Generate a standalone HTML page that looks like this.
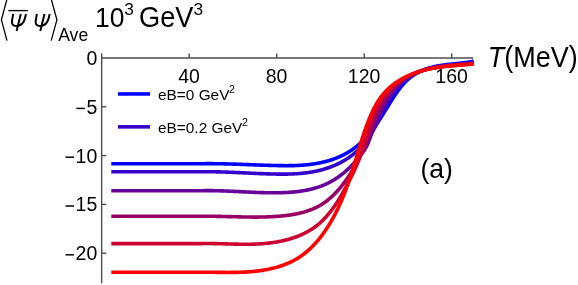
<!DOCTYPE html>
<html><head><meta charset="utf-8"><title>chart</title>
<style>html,body{margin:0;padding:0;background:#fff;overflow:hidden}body{width:578px;height:285px;position:relative;font-family:"Liberation Sans",sans-serif}</style>
</head><body>
<svg width="578" height="285" viewBox="0 0 578 285" style="position:absolute;left:0;top:0;font-family:'Liberation Sans',sans-serif">
<rect width="578" height="285" fill="#fff"/>
<path d="M111.30,163.72 L198.00,163.72 L198.80,163.71 L199.60,163.71 L200.40,163.70 L201.20,163.69 L202.00,163.69 L202.80,163.68 L203.60,163.68 L204.40,163.68 L205.20,163.67 L206.00,163.67 L206.80,163.66 L207.60,163.66 L208.40,163.66 L209.20,163.66 L210.00,163.66 L210.80,163.66 L211.60,163.67 L212.40,163.67 L213.20,163.68 L214.00,163.68 L214.80,163.69 L215.60,163.70 L216.40,163.71 L217.20,163.72 L218.00,163.73 L218.80,163.74 L219.60,163.75 L220.40,163.77 L221.20,163.78 L222.00,163.80 L222.80,163.82 L223.60,163.83 L224.40,163.85 L225.20,163.87 L226.00,163.89 L226.80,163.91 L227.60,163.93 L228.40,163.95 L229.20,163.98 L230.00,164.00 L230.80,164.02 L231.60,164.05 L232.40,164.07 L233.20,164.10 L234.00,164.12 L234.80,164.15 L235.60,164.17 L236.40,164.20 L237.20,164.23 L238.01,164.26 L238.81,164.28 L239.61,164.31 L240.41,164.34 L241.21,164.37 L242.01,164.40 L242.81,164.43 L243.61,164.46 L244.41,164.49 L245.21,164.52 L246.01,164.55 L246.81,164.58 L247.61,164.61 L248.41,164.64 L249.21,164.67 L250.01,164.70 L250.81,164.73 L251.61,164.76 L252.41,164.79 L253.21,164.82 L254.01,164.85 L254.81,164.88 L255.61,164.91 L256.41,164.94 L257.21,164.97 L258.01,165.00 L258.81,165.03 L259.60,165.06 L260.40,165.09 L261.20,165.11 L262.00,165.14 L262.80,165.17 L263.60,165.20 L264.40,165.22 L265.20,165.25 L266.00,165.27 L266.80,165.30 L267.60,165.32 L268.40,165.35 L269.20,165.37 L270.00,165.40 L270.80,165.42 L271.60,165.44 L272.40,165.46 L273.19,165.48 L273.99,165.50 L274.79,165.52 L275.59,165.54 L276.39,165.56 L277.19,165.57 L277.99,165.59 L278.79,165.60 L279.59,165.62 L280.38,165.63 L281.18,165.64 L281.98,165.65 L282.78,165.66 L283.58,165.67 L284.38,165.67 L285.17,165.68 L285.97,165.68 L286.77,165.68 L287.57,165.68 L288.36,165.67 L289.16,165.67 L289.96,165.66 L290.76,165.65 L291.55,165.63 L292.35,165.62 L293.15,165.60 L293.94,165.58 L294.74,165.56 L295.53,165.53 L296.33,165.50 L297.12,165.47 L297.92,165.43 L298.71,165.39 L299.51,165.35 L300.30,165.31 L301.10,165.26 L301.89,165.20 L302.68,165.15 L303.48,165.09 L304.27,165.02 L305.06,164.96 L305.85,164.88 L306.64,164.81 L307.44,164.73 L308.23,164.64 L309.02,164.55 L309.81,164.46 L310.60,164.36 L311.39,164.26 L312.18,164.15 L312.97,164.04 L313.75,163.92 L314.54,163.80 L315.33,163.68 L316.12,163.54 L316.90,163.41 L317.69,163.26 L318.48,163.11 L319.26,162.96 L320.05,162.80 L320.83,162.64 L321.61,162.47 L322.40,162.29 L323.18,162.11 L323.96,161.92 L324.75,161.72 L325.53,161.52 L326.31,161.31 L327.08,161.10 L327.86,160.88 L328.64,160.66 L329.41,160.42 L330.19,160.18 L330.96,159.94 L331.73,159.69 L332.49,159.43 L333.26,159.17 L334.02,158.90 L334.78,158.62 L335.54,158.34 L336.29,158.04 L337.04,157.75 L337.79,157.44 L338.53,157.13 L339.28,156.82 L340.01,156.49 L340.75,156.16 L341.48,155.82 L342.20,155.48 L342.93,155.13 L343.65,154.77 L344.36,154.40 L345.07,154.03 L345.77,153.65 L346.48,153.26 L347.17,152.87 L347.86,152.47 L348.55,152.06 L349.23,151.64 L349.90,151.22 L350.57,150.79 L351.23,150.35 L351.89,149.90 L352.54,149.45 L353.19,148.99 L353.83,148.53 L354.47,148.05 L355.10,147.57 L355.72,147.09 L356.34,146.59 L356.96,146.09 L357.57,145.59 L358.17,145.08 L358.77,144.56 L359.37,144.04 L359.96,143.51 L360.54,142.97 L361.12,142.43 L361.70,141.88 L362.27,141.33 L362.84,140.78 L363.40,140.21 L363.95,139.65 L364.51,139.08 L365.06,138.50 L365.60,137.92 L366.14,137.33 L366.67,136.74 L367.20,136.15 L367.73,135.55 L368.25,134.94 L368.77,134.34 L369.29,133.72 L369.80,133.11 L370.31,132.49 L370.81,131.87 L371.31,131.24 L371.80,130.61 L372.29,129.98 L372.78,129.34 L373.27,128.70 L373.75,128.06 L374.22,127.42 L374.70,126.77 L375.17,126.12 L375.64,125.47 L376.10,124.81 L376.56,124.15 L377.02,123.49 L377.47,122.83 L377.92,122.17 L378.37,121.50 L378.82,120.83 L379.26,120.17 L379.70,119.49 L380.14,118.82 L380.57,118.15 L381.00,117.47 L381.43,116.80 L381.86,116.12 L382.29,115.44 L382.71,114.76 L383.14,114.08 L383.56,113.40 L383.98,112.72 L384.40,112.04 L384.82,111.35 L385.24,110.67 L385.65,109.99 L386.07,109.30 L386.49,108.62 L386.91,107.94 L387.32,107.25 L387.74,106.57 L388.16,105.88 L388.58,105.20 L389.00,104.52 L389.42,103.83 L389.84,103.15 L390.27,102.47 L390.69,101.79 L391.12,101.11 L391.55,100.43 L391.98,99.75 L392.41,99.07 L392.85,98.39 L393.28,97.72 L393.72,97.04 L394.17,96.37 L394.61,95.70 L395.06,95.03 L395.51,94.36 L395.97,93.69 L396.43,93.03 L396.89,92.36 L397.36,91.70 L397.83,91.05 L398.30,90.39 L398.78,89.74 L399.27,89.09 L399.76,88.45 L400.25,87.81 L400.75,87.18 L401.25,86.55 L401.76,85.93 L402.28,85.31 L402.80,84.71 L403.33,84.10 L403.86,83.51 L404.40,82.92 L404.95,82.34 L405.50,81.77 L406.06,81.21 L406.63,80.65 L407.20,80.11 L407.79,79.58 L408.38,79.05 L408.97,78.54 L409.58,78.04 L410.19,77.54 L410.81,77.06 L411.44,76.59 L412.08,76.13 L412.72,75.68 L413.37,75.25 L414.03,74.82 L414.69,74.40 L415.36,73.99 L416.04,73.60 L416.72,73.21 L417.41,72.83 L418.11,72.46 L418.81,72.11 L419.52,71.76 L420.23,71.42 L420.95,71.09 L421.67,70.77 L422.39,70.46 L423.13,70.16 L423.86,69.86 L424.60,69.58 L425.35,69.30 L426.10,69.03 L426.85,68.78 L427.61,68.53 L428.37,68.28 L429.13,68.05 L429.90,67.82 L430.67,67.60 L431.44,67.39 L432.22,67.19 L432.99,67.00 L433.77,66.81 L434.56,66.63 L435.34,66.45 L436.13,66.29 L436.91,66.13 L437.70,65.98 L438.50,65.83 L439.29,65.69 L440.08,65.56 L440.88,65.43 L441.67,65.30 L442.47,65.18 L443.27,65.07 L444.07,64.96 L444.87,64.85 L445.67,64.75 L446.47,64.65 L447.27,64.55 L448.07,64.46 L448.87,64.37 L449.68,64.28 L450.48,64.20 L451.28,64.11 L452.09,64.03 L452.89,63.94 L453.69,63.86 L454.49,63.78 L455.30,63.70 L456.10,63.62 L456.90,63.54 L457.70,63.46 L458.50,63.37 L459.30,63.29 L460.09,63.20 L460.89,63.11 L461.68,63.02 L462.48,62.93 L463.27,62.84 L464.06,62.74 L464.85,62.64 L465.64,62.53 L466.43,62.42 L467.21,62.31 L468.00,62.19 L468.78,62.07 L469.56,61.94 L470.33,61.81 L471.11,61.67 L471.88,61.53 L472.65,61.38 L473.42,61.22 L473.72,61.15" fill="none" stroke="#0000ff" stroke-width="3.6" stroke-linejoin="round" stroke-linecap="butt"/>
<path d="M111.30,171.80 L198.00,171.80 L198.80,171.80 L199.60,171.79 L200.40,171.79 L201.20,171.78 L202.00,171.77 L202.80,171.77 L203.60,171.76 L204.40,171.76 L205.20,171.75 L206.00,171.75 L206.80,171.75 L207.60,171.75 L208.40,171.75 L209.20,171.75 L210.00,171.75 L210.80,171.76 L211.60,171.76 L212.40,171.77 L213.20,171.78 L214.00,171.79 L214.80,171.80 L215.60,171.81 L216.40,171.83 L217.20,171.84 L218.00,171.86 L218.80,171.88 L219.60,171.90 L220.40,171.92 L221.20,171.94 L222.00,171.96 L222.80,171.98 L223.60,172.01 L224.40,172.03 L225.20,172.06 L226.00,172.09 L226.80,172.12 L227.60,172.15 L228.40,172.18 L229.20,172.21 L230.00,172.24 L230.80,172.27 L231.60,172.30 L232.40,172.33 L233.20,172.37 L234.00,172.40 L234.80,172.44 L235.60,172.47 L236.40,172.51 L237.20,172.54 L238.00,172.58 L238.80,172.62 L239.60,172.66 L240.40,172.69 L241.20,172.73 L242.00,172.77 L242.80,172.81 L243.60,172.84 L244.40,172.88 L245.20,172.92 L246.00,172.96 L246.80,173.00 L247.59,173.04 L248.39,173.07 L249.19,173.11 L249.99,173.15 L250.79,173.19 L251.59,173.22 L252.39,173.26 L253.19,173.30 L253.99,173.33 L254.79,173.37 L255.59,173.41 L256.39,173.44 L257.19,173.48 L257.99,173.51 L258.79,173.54 L259.59,173.58 L260.39,173.61 L261.19,173.64 L261.99,173.67 L262.79,173.70 L263.59,173.73 L264.39,173.76 L265.19,173.79 L265.99,173.82 L266.79,173.84 L267.59,173.87 L268.39,173.89 L269.18,173.92 L269.98,173.94 L270.78,173.96 L271.58,173.98 L272.38,174.00 L273.18,174.02 L273.98,174.04 L274.78,174.05 L275.58,174.07 L276.38,174.08 L277.18,174.09 L277.98,174.10 L278.78,174.11 L279.58,174.12 L280.38,174.12 L281.17,174.12 L281.97,174.13 L282.77,174.13 L283.57,174.12 L284.37,174.12 L285.17,174.11 L285.97,174.10 L286.76,174.09 L287.56,174.08 L288.36,174.06 L289.16,174.04 L289.95,174.02 L290.75,173.99 L291.55,173.97 L292.34,173.94 L293.14,173.90 L293.93,173.86 L294.73,173.82 L295.52,173.78 L296.32,173.73 L297.11,173.68 L297.90,173.63 L298.70,173.57 L299.49,173.51 L300.28,173.44 L301.07,173.37 L301.86,173.30 L302.65,173.22 L303.44,173.14 L304.23,173.05 L305.02,172.96 L305.81,172.87 L306.60,172.77 L307.38,172.66 L308.17,172.56 L308.96,172.44 L309.74,172.32 L310.53,172.20 L311.31,172.07 L312.09,171.94 L312.87,171.80 L313.66,171.65 L314.44,171.50 L315.22,171.35 L316.00,171.19 L316.77,171.02 L317.55,170.85 L318.33,170.67 L319.10,170.48 L319.88,170.29 L320.65,170.10 L321.43,169.90 L322.20,169.69 L322.97,169.47 L323.74,169.25 L324.51,169.02 L325.28,168.79 L326.05,168.55 L326.81,168.30 L327.58,168.04 L328.34,167.78 L329.11,167.51 L329.87,167.24 L330.63,166.95 L331.39,166.66 L332.14,166.37 L332.90,166.06 L333.65,165.75 L334.40,165.44 L335.15,165.11 L335.89,164.78 L336.63,164.45 L337.37,164.10 L338.11,163.75 L338.84,163.40 L339.57,163.03 L340.29,162.66 L341.01,162.29 L341.73,161.90 L342.45,161.51 L343.16,161.12 L343.86,160.72 L344.56,160.31 L345.26,159.89 L345.95,159.47 L346.63,159.04 L347.32,158.60 L347.99,158.16 L348.66,157.71 L349.33,157.26 L349.99,156.80 L350.64,156.33 L351.29,155.86 L351.93,155.38 L352.56,154.89 L353.19,154.40 L353.81,153.90 L354.43,153.39 L355.03,152.88 L355.64,152.36 L356.23,151.84 L356.82,151.31 L357.39,150.77 L357.97,150.23 L358.53,149.68 L359.09,149.13 L359.64,148.57 L360.18,148.00 L360.72,147.43 L361.25,146.85 L361.77,146.27 L362.29,145.68 L362.80,145.09 L363.31,144.49 L363.81,143.89 L364.30,143.28 L364.79,142.67 L365.27,142.05 L365.75,141.43 L366.22,140.80 L366.69,140.17 L367.15,139.54 L367.61,138.90 L368.06,138.26 L368.51,137.61 L368.96,136.96 L369.40,136.31 L369.83,135.65 L370.26,134.99 L370.69,134.32 L371.12,133.65 L371.54,132.98 L371.96,132.31 L372.37,131.63 L372.78,130.95 L373.19,130.26 L373.60,129.58 L374.00,128.89 L374.40,128.20 L374.80,127.50 L375.20,126.81 L375.59,126.11 L375.98,125.41 L376.37,124.70 L376.76,124.00 L377.15,123.29 L377.53,122.58 L377.92,121.87 L378.30,121.16 L378.68,120.45 L379.06,119.74 L379.44,119.02 L379.82,118.30 L380.20,117.59 L380.58,116.87 L380.95,116.15 L381.33,115.43 L381.71,114.71 L382.09,113.99 L382.47,113.26 L382.84,112.54 L383.22,111.82 L383.60,111.10 L383.98,110.38 L384.37,109.65 L384.75,108.93 L385.13,108.21 L385.52,107.49 L385.91,106.77 L386.30,106.06 L386.69,105.34 L387.08,104.63 L387.48,103.91 L387.87,103.20 L388.27,102.49 L388.67,101.79 L389.08,101.08 L389.49,100.38 L389.90,99.68 L390.31,98.99 L390.73,98.30 L391.15,97.61 L391.58,96.92 L392.00,96.24 L392.44,95.56 L392.87,94.89 L393.31,94.22 L393.76,93.56 L394.21,92.90 L394.66,92.25 L395.12,91.60 L395.58,90.95 L396.05,90.31 L396.52,89.68 L397.00,89.06 L397.49,88.43 L397.98,87.82 L398.47,87.21 L398.98,86.61 L399.48,86.02 L400.00,85.43 L400.52,84.85 L401.04,84.28 L401.58,83.71 L402.12,83.15 L402.66,82.60 L403.22,82.06 L403.78,81.53 L404.35,81.00 L404.92,80.49 L405.51,79.98 L406.10,79.48 L406.70,78.99 L407.31,78.51 L407.92,78.04 L408.55,77.58 L409.18,77.13 L409.82,76.69 L410.47,76.26 L411.13,75.84 L411.79,75.43 L412.47,75.03 L413.15,74.64 L413.83,74.26 L414.53,73.88 L415.23,73.52 L415.94,73.17 L416.66,72.82 L417.38,72.49 L418.10,72.16 L418.84,71.84 L419.58,71.53 L420.32,71.23 L421.07,70.94 L421.82,70.65 L422.58,70.38 L423.34,70.11 L424.11,69.85 L424.88,69.59 L425.66,69.35 L426.43,69.11 L427.22,68.88 L428.00,68.66 L428.79,68.45 L429.58,68.24 L430.37,68.04 L431.16,67.84 L431.96,67.66 L432.76,67.48 L433.56,67.30 L434.36,67.14 L435.16,66.98 L435.96,66.82 L436.77,66.67 L437.57,66.53 L438.37,66.39 L439.18,66.26 L439.98,66.14 L440.79,66.02 L441.59,65.90 L442.40,65.79 L443.21,65.68 L444.01,65.58 L444.82,65.48 L445.62,65.38 L446.43,65.29 L447.23,65.20 L448.04,65.11 L448.84,65.02 L449.65,64.94 L450.45,64.86 L451.25,64.78 L452.06,64.71 L452.86,64.63 L453.66,64.56 L454.46,64.48 L455.26,64.41 L456.05,64.34 L456.85,64.27 L457.64,64.20 L458.44,64.12 L459.23,64.05 L460.02,63.98 L460.81,63.90 L461.60,63.83 L462.39,63.75 L463.17,63.67 L463.95,63.59 L464.73,63.51 L465.51,63.42 L466.29,63.34 L467.07,63.25 L467.84,63.15 L468.61,63.06 L469.38,62.96 L470.14,62.85 L470.91,62.74 L471.67,62.63 L472.43,62.51 L473.18,62.39 L473.64,62.32" fill="none" stroke="#3300cc" stroke-width="3.6" stroke-linejoin="round" stroke-linecap="butt"/>
<path d="M111.30,190.71 L198.80,190.71 L199.60,190.71 L200.40,190.70 L201.20,190.69 L202.00,190.68 L202.80,190.68 L203.60,190.67 L204.40,190.66 L205.21,190.66 L206.01,190.65 L206.81,190.65 L207.61,190.65 L208.41,190.64 L209.21,190.64 L210.01,190.65 L210.81,190.65 L211.61,190.66 L212.41,190.66 L213.21,190.67 L214.01,190.68 L214.80,190.70 L215.60,190.71 L216.40,190.73 L217.20,190.74 L218.00,190.76 L218.79,190.78 L219.59,190.80 L220.39,190.83 L221.19,190.85 L221.98,190.88 L222.78,190.90 L223.58,190.93 L224.38,190.96 L225.17,190.99 L225.97,191.02 L226.77,191.05 L227.56,191.08 L228.36,191.11 L229.16,191.15 L229.95,191.18 L230.75,191.22 L231.54,191.25 L232.34,191.29 L233.14,191.33 L233.93,191.36 L234.73,191.40 L235.52,191.44 L236.32,191.48 L237.12,191.52 L237.91,191.56 L238.71,191.60 L239.51,191.64 L240.30,191.67 L241.10,191.71 L241.89,191.75 L242.69,191.79 L243.49,191.83 L244.28,191.87 L245.08,191.91 L245.88,191.95 L246.67,191.99 L247.47,192.03 L248.27,192.06 L249.07,192.10 L249.86,192.14 L250.66,192.18 L251.46,192.21 L252.26,192.25 L253.05,192.28 L253.85,192.32 L254.65,192.35 L255.45,192.38 L256.25,192.41 L257.05,192.44 L257.85,192.47 L258.64,192.50 L259.44,192.53 L260.24,192.55 L261.04,192.58 L261.84,192.60 L262.64,192.63 L263.44,192.65 L264.25,192.67 L265.05,192.69 L265.85,192.70 L266.65,192.72 L267.45,192.73 L268.25,192.75 L269.06,192.76 L269.86,192.77 L270.66,192.78 L271.47,192.78 L272.27,192.79 L273.08,192.79 L273.88,192.79 L274.69,192.79 L275.49,192.78 L276.30,192.78 L277.10,192.77 L277.91,192.76 L278.72,192.75 L279.52,192.73 L280.33,192.72 L281.14,192.70 L281.95,192.67 L282.75,192.65 L283.56,192.62 L284.37,192.59 L285.17,192.56 L285.98,192.52 L286.79,192.48 L287.59,192.43 L288.40,192.39 L289.20,192.34 L290.01,192.28 L290.81,192.22 L291.62,192.16 L292.42,192.10 L293.22,192.03 L294.02,191.95 L294.82,191.87 L295.62,191.79 L296.42,191.70 L297.22,191.61 L298.02,191.52 L298.81,191.42 L299.61,191.31 L300.40,191.20 L301.20,191.09 L301.99,190.97 L302.78,190.84 L303.56,190.71 L304.35,190.58 L305.14,190.44 L305.92,190.29 L306.70,190.14 L307.48,189.98 L308.26,189.82 L309.04,189.65 L309.82,189.47 L310.59,189.29 L311.36,189.10 L312.13,188.91 L312.90,188.71 L313.66,188.50 L314.43,188.29 L315.19,188.07 L315.95,187.85 L316.70,187.61 L317.46,187.37 L318.21,187.13 L318.96,186.87 L319.71,186.61 L320.45,186.34 L321.19,186.07 L321.93,185.78 L322.67,185.49 L323.40,185.20 L324.13,184.89 L324.86,184.58 L325.59,184.25 L326.31,183.92 L327.03,183.59 L327.74,183.24 L328.46,182.89 L329.17,182.53 L329.87,182.16 L330.58,181.78 L331.27,181.40 L331.97,181.01 L332.66,180.61 L333.35,180.20 L334.04,179.79 L334.72,179.37 L335.40,178.94 L336.07,178.51 L336.74,178.07 L337.41,177.62 L338.07,177.17 L338.73,176.71 L339.38,176.24 L340.03,175.77 L340.67,175.29 L341.31,174.80 L341.95,174.31 L342.58,173.81 L343.21,173.31 L343.83,172.80 L344.45,172.28 L345.06,171.76 L345.67,171.24 L346.28,170.70 L346.87,170.17 L347.47,169.62 L348.06,169.08 L348.64,168.52 L349.22,167.97 L349.79,167.40 L350.36,166.83 L350.92,166.26 L351.48,165.68 L352.03,165.10 L352.57,164.52 L353.11,163.93 L353.65,163.33 L354.18,162.73 L354.70,162.13 L355.22,161.52 L355.74,160.91 L356.25,160.30 L356.77,159.69 L357.28,159.08 L357.79,158.47 L358.30,157.85 L358.81,157.24 L359.32,156.63 L359.83,156.01 L360.34,155.40 L360.85,154.79 L361.35,154.17 L361.85,153.55 L362.34,152.92 L362.82,152.30 L363.30,151.66 L363.77,151.02 L364.22,150.37 L364.66,149.72 L365.09,149.06 L365.51,148.38 L365.91,147.70 L366.29,147.01 L366.65,146.30 L367.01,145.59 L367.34,144.87 L367.67,144.15 L367.99,143.41 L368.29,142.67 L368.59,141.93 L368.89,141.19 L369.17,140.44 L369.46,139.69 L369.74,138.94 L370.02,138.20 L370.29,137.45 L370.57,136.70 L370.85,135.96 L371.12,135.21 L371.40,134.47 L371.67,133.72 L371.95,132.98 L372.22,132.24 L372.50,131.50 L372.77,130.76 L373.05,130.02 L373.32,129.28 L373.60,128.54 L373.88,127.80 L374.16,127.06 L374.44,126.33 L374.73,125.59 L375.01,124.85 L375.30,124.12 L375.59,123.39 L375.88,122.65 L376.17,121.92 L376.47,121.19 L376.77,120.45 L377.07,119.72 L377.37,118.99 L377.68,118.26 L377.99,117.53 L378.31,116.80 L378.63,116.08 L378.95,115.35 L379.28,114.62 L379.61,113.89 L379.95,113.17 L380.29,112.44 L380.63,111.72 L380.98,110.99 L381.34,110.27 L381.70,109.54 L382.07,108.82 L382.44,108.10 L382.81,107.38 L383.19,106.66 L383.58,105.95 L383.97,105.23 L384.36,104.52 L384.76,103.81 L385.17,103.11 L385.58,102.40 L386.00,101.70 L386.42,101.00 L386.84,100.30 L387.28,99.61 L387.71,98.92 L388.16,98.24 L388.60,97.56 L389.06,96.88 L389.51,96.21 L389.98,95.54 L390.45,94.87 L390.92,94.21 L391.40,93.56 L391.89,92.91 L392.38,92.26 L392.87,91.62 L393.38,90.99 L393.88,90.36 L394.40,89.74 L394.91,89.12 L395.44,88.51 L395.97,87.91 L396.50,87.31 L397.05,86.72 L397.59,86.14 L398.15,85.56 L398.70,84.99 L399.27,84.43 L399.84,83.88 L400.41,83.33 L400.99,82.79 L401.58,82.26 L402.17,81.74 L402.77,81.23 L403.38,80.72 L403.99,80.22 L404.61,79.74 L405.23,79.26 L405.86,78.79 L406.49,78.33 L407.13,77.88 L407.78,77.44 L408.43,77.01 L409.09,76.59 L409.76,76.18 L410.43,75.78 L411.11,75.39 L411.79,75.01 L412.48,74.64 L413.17,74.28 L413.87,73.93 L414.58,73.59 L415.29,73.26 L416.00,72.94 L416.72,72.62 L417.45,72.32 L418.18,72.02 L418.91,71.73 L419.65,71.45 L420.39,71.18 L421.14,70.92 L421.89,70.66 L422.64,70.41 L423.40,70.17 L424.16,69.94 L424.93,69.71 L425.70,69.49 L426.47,69.28 L427.25,69.07 L428.02,68.87 L428.81,68.68 L429.59,68.49 L430.38,68.31 L431.16,68.13 L431.96,67.96 L432.75,67.80 L433.55,67.64 L434.34,67.48 L435.14,67.33 L435.94,67.19 L436.75,67.05 L437.55,66.91 L438.36,66.78 L439.16,66.65 L439.97,66.53 L440.78,66.41 L441.59,66.30 L442.40,66.19 L443.21,66.08 L444.02,65.97 L444.84,65.87 L445.65,65.77 L446.46,65.68 L447.27,65.58 L448.08,65.49 L448.89,65.40 L449.71,65.32 L450.52,65.23 L451.33,65.15 L452.13,65.07 L452.94,64.99 L453.75,64.91 L454.56,64.83 L455.36,64.76 L456.16,64.68 L456.96,64.61 L457.76,64.53 L458.56,64.46 L459.36,64.39 L460.15,64.31 L460.94,64.24 L461.73,64.17 L462.52,64.09 L463.30,64.02 L464.08,63.94 L464.86,63.87 L465.64,63.79 L466.41,63.71 L467.18,63.63 L467.95,63.55 L468.71,63.47 L469.47,63.38 L470.22,63.29 L470.97,63.20 L471.72,63.11 L472.46,63.02 L473.20,62.92 L473.56,62.87" fill="none" stroke="#660099" stroke-width="3.6" stroke-linejoin="round" stroke-linecap="butt"/>
<path d="M111.30,216.30 L198.79,216.30 L199.60,216.30 L200.40,216.29 L201.20,216.29 L202.00,216.28 L202.80,216.28 L203.60,216.28 L204.41,216.27 L205.21,216.27 L206.01,216.27 L206.81,216.27 L207.61,216.27 L208.41,216.27 L209.21,216.27 L210.01,216.27 L210.81,216.27 L211.61,216.28 L212.41,216.29 L213.21,216.29 L214.01,216.30 L214.81,216.31 L215.60,216.32 L216.40,216.34 L217.20,216.35 L218.00,216.36 L218.79,216.38 L219.59,216.39 L220.39,216.41 L221.18,216.42 L221.98,216.44 L222.78,216.46 L223.57,216.48 L224.37,216.50 L225.16,216.52 L225.96,216.54 L226.76,216.56 L227.55,216.58 L228.35,216.60 L229.14,216.62 L229.94,216.64 L230.73,216.66 L231.53,216.68 L232.32,216.70 L233.12,216.72 L233.91,216.74 L234.71,216.76 L235.50,216.78 L236.30,216.80 L237.09,216.82 L237.89,216.84 L238.68,216.86 L239.48,216.88 L240.27,216.90 L241.07,216.92 L241.86,216.93 L242.66,216.95 L243.45,216.96 L244.25,216.98 L245.04,216.99 L245.84,217.01 L246.63,217.02 L247.43,217.03 L248.23,217.04 L249.02,217.05 L249.82,217.06 L250.61,217.07 L251.41,217.07 L252.21,217.08 L253.01,217.08 L253.80,217.08 L254.60,217.09 L255.40,217.09 L256.20,217.08 L257.00,217.08 L257.79,217.08 L258.59,217.07 L259.39,217.06 L260.19,217.05 L260.99,217.04 L261.79,217.03 L262.59,217.01 L263.39,216.99 L264.20,216.97 L265.00,216.95 L265.80,216.93 L266.60,216.90 L267.41,216.88 L268.21,216.85 L269.01,216.82 L269.82,216.78 L270.62,216.75 L271.43,216.71 L272.23,216.67 L273.04,216.62 L273.85,216.58 L274.65,216.53 L275.46,216.48 L276.27,216.42 L277.08,216.36 L277.89,216.30 L278.69,216.24 L279.50,216.18 L280.31,216.11 L281.12,216.04 L281.93,215.96 L282.74,215.88 L283.55,215.80 L284.36,215.71 L285.17,215.62 L285.97,215.53 L286.78,215.43 L287.59,215.32 L288.39,215.22 L289.20,215.11 L290.00,214.99 L290.80,214.87 L291.60,214.74 L292.40,214.61 L293.20,214.48 L294.00,214.34 L294.79,214.19 L295.58,214.04 L296.38,213.89 L297.16,213.72 L297.95,213.56 L298.74,213.38 L299.52,213.20 L300.30,213.02 L301.08,212.83 L301.85,212.63 L302.63,212.43 L303.40,212.21 L304.17,212.00 L304.93,211.77 L305.69,211.54 L306.45,211.31 L307.21,211.06 L307.96,210.81 L308.71,210.55 L309.45,210.29 L310.19,210.01 L310.93,209.73 L311.67,209.44 L312.40,209.15 L313.12,208.84 L313.85,208.53 L314.56,208.21 L315.28,207.88 L315.99,207.54 L316.69,207.20 L317.39,206.84 L318.09,206.48 L318.78,206.11 L319.47,205.73 L320.15,205.34 L320.83,204.94 L321.50,204.53 L322.17,204.12 L322.83,203.69 L323.48,203.25 L324.13,202.81 L324.78,202.36 L325.42,201.90 L326.06,201.43 L326.69,200.95 L327.32,200.47 L327.94,199.98 L328.55,199.48 L329.16,198.97 L329.77,198.45 L330.37,197.93 L330.97,197.40 L331.56,196.87 L332.15,196.33 L332.73,195.78 L333.31,195.22 L333.88,194.66 L334.45,194.10 L335.01,193.53 L335.57,192.95 L336.13,192.37 L336.68,191.78 L337.22,191.18 L337.76,190.59 L338.30,189.98 L338.83,189.38 L339.35,188.76 L339.88,188.15 L340.39,187.53 L340.91,186.91 L341.42,186.28 L341.92,185.65 L342.42,185.01 L342.91,184.37 L343.41,183.73 L343.89,183.09 L344.37,182.44 L344.85,181.79 L345.33,181.14 L345.79,180.49 L346.26,179.83 L346.72,179.18 L347.18,178.52 L347.63,177.85 L348.08,177.19 L348.52,176.53 L348.96,175.86 L349.40,175.19 L349.83,174.52 L350.26,173.85 L350.69,173.17 L351.11,172.50 L351.53,171.82 L351.95,171.14 L352.36,170.46 L352.77,169.77 L353.18,169.09 L353.58,168.40 L353.98,167.72 L354.38,167.03 L354.78,166.33 L355.17,165.64 L355.56,164.95 L355.95,164.25 L356.34,163.55 L356.72,162.85 L357.10,162.15 L357.48,161.45 L357.86,160.74 L358.24,160.04 L358.61,159.33 L358.98,158.62 L359.35,157.91 L359.72,157.20 L360.09,156.49 L360.46,155.77 L360.82,155.06 L361.18,154.34 L361.54,153.62 L361.90,152.90 L362.25,152.18 L362.61,151.46 L362.95,150.73 L363.30,150.01 L363.64,149.29 L363.98,148.56 L364.31,147.83 L364.64,147.10 L364.96,146.38 L365.28,145.65 L365.60,144.92 L365.91,144.18 L366.21,143.45 L366.51,142.72 L366.80,141.99 L367.08,141.26 L367.36,140.52 L367.64,139.79 L367.90,139.05 L368.16,138.32 L368.41,137.59 L368.66,136.85 L368.91,136.11 L369.15,135.38 L369.38,134.64 L369.62,133.90 L369.85,133.16 L370.09,132.42 L370.33,131.68 L370.57,130.94 L370.81,130.19 L371.06,129.45 L371.31,128.70 L371.56,127.95 L371.82,127.20 L372.09,126.45 L372.36,125.70 L372.63,124.94 L372.90,124.19 L373.18,123.44 L373.47,122.68 L373.76,121.93 L374.05,121.18 L374.35,120.42 L374.65,119.67 L374.96,118.92 L375.27,118.16 L375.58,117.41 L375.90,116.66 L376.23,115.91 L376.56,115.16 L376.89,114.42 L377.23,113.67 L377.57,112.93 L377.92,112.18 L378.27,111.44 L378.63,110.71 L378.99,109.97 L379.36,109.24 L379.73,108.50 L380.11,107.78 L380.49,107.05 L380.88,106.33 L381.27,105.61 L381.67,104.89 L382.07,104.18 L382.47,103.47 L382.89,102.76 L383.30,102.06 L383.73,101.36 L384.15,100.67 L384.59,99.98 L385.02,99.29 L385.47,98.61 L385.92,97.93 L386.37,97.26 L386.83,96.59 L387.29,95.93 L387.76,95.28 L388.24,94.63 L388.72,93.98 L389.21,93.34 L389.70,92.71 L390.20,92.08 L390.70,91.46 L391.21,90.84 L391.73,90.23 L392.25,89.63 L392.77,89.03 L393.31,88.44 L393.84,87.86 L394.39,87.29 L394.94,86.72 L395.49,86.16 L396.05,85.61 L396.62,85.06 L397.19,84.52 L397.77,83.99 L398.36,83.47 L398.95,82.96 L399.55,82.46 L400.15,81.96 L400.76,81.47 L401.38,80.99 L402.00,80.53 L402.63,80.07 L403.27,79.61 L403.91,79.17 L404.55,78.74 L405.21,78.32 L405.87,77.90 L406.53,77.50 L407.20,77.10 L407.88,76.72 L408.56,76.34 L409.25,75.97 L409.94,75.60 L410.64,75.25 L411.34,74.90 L412.05,74.57 L412.76,74.24 L413.48,73.92 L414.20,73.60 L414.93,73.29 L415.66,72.99 L416.39,72.70 L417.13,72.42 L417.88,72.14 L418.62,71.87 L419.37,71.61 L420.13,71.35 L420.89,71.10 L421.65,70.85 L422.41,70.62 L423.18,70.38 L423.95,70.16 L424.72,69.94 L425.50,69.73 L426.28,69.52 L427.06,69.32 L427.85,69.12 L428.64,68.93 L429.42,68.75 L430.22,68.57 L431.01,68.39 L431.80,68.22 L432.60,68.06 L433.40,67.90 L434.20,67.74 L435.00,67.59 L435.81,67.44 L436.61,67.30 L437.42,67.16 L438.22,67.03 L439.03,66.90 L439.84,66.77 L440.65,66.65 L441.46,66.53 L442.27,66.42 L443.08,66.31 L443.89,66.20 L444.70,66.09 L445.51,65.99 L446.33,65.89 L447.14,65.80 L447.95,65.70 L448.76,65.61 L449.57,65.52 L450.37,65.44 L451.18,65.35 L451.99,65.27 L452.79,65.19 L453.60,65.12 L454.40,65.04 L455.20,64.97 L456.00,64.89 L456.80,64.82 L457.60,64.75 L458.40,64.68 L459.19,64.62 L459.98,64.55 L460.77,64.49 L461.56,64.42 L462.34,64.36 L463.12,64.29 L463.90,64.23 L464.68,64.17 L465.45,64.11 L466.22,64.04 L466.99,63.98 L467.76,63.92 L468.52,63.86 L469.27,63.79 L470.03,63.73 L470.78,63.66 L471.53,63.60 L472.27,63.53 L473.01,63.47 L473.52,63.42" fill="none" stroke="#990066" stroke-width="3.6" stroke-linejoin="round" stroke-linecap="butt"/>
<path d="M111.30,243.61 L198.80,243.61 L199.60,243.60 L200.40,243.60 L201.20,243.59 L202.00,243.58 L202.80,243.57 L203.60,243.57 L204.40,243.56 L205.20,243.56 L206.00,243.55 L206.80,243.55 L207.60,243.55 L208.40,243.55 L209.20,243.55 L210.00,243.55 L210.80,243.56 L211.60,243.56 L212.40,243.57 L213.20,243.58 L214.00,243.59 L214.80,243.60 L215.60,243.61 L216.40,243.63 L217.20,243.64 L218.00,243.66 L218.80,243.68 L219.60,243.70 L220.40,243.72 L221.20,243.74 L222.00,243.76 L222.80,243.78 L223.60,243.80 L224.39,243.82 L225.19,243.84 L225.99,243.87 L226.79,243.89 L227.59,243.91 L228.39,243.94 L229.19,243.96 L229.99,243.98 L230.78,244.00 L231.58,244.02 L232.38,244.04 L233.18,244.07 L233.98,244.09 L234.78,244.10 L235.57,244.12 L236.37,244.14 L237.17,244.16 L237.97,244.17 L238.77,244.19 L239.56,244.20 L240.36,244.21 L241.16,244.22 L241.96,244.23 L242.76,244.24 L243.55,244.25 L244.35,244.25 L245.15,244.25 L245.95,244.25 L246.74,244.25 L247.54,244.25 L248.34,244.24 L249.14,244.23 L249.93,244.22 L250.73,244.21 L251.53,244.20 L252.33,244.18 L253.12,244.16 L253.92,244.14 L254.72,244.11 L255.52,244.08 L256.31,244.05 L257.11,244.01 L257.91,243.98 L258.71,243.94 L259.50,243.89 L260.30,243.84 L261.10,243.79 L261.90,243.74 L262.69,243.68 L263.49,243.62 L264.29,243.55 L265.09,243.48 L265.88,243.41 L266.68,243.33 L267.48,243.25 L268.28,243.16 L269.07,243.07 L269.87,242.98 L270.67,242.88 L271.47,242.77 L272.26,242.66 L273.06,242.55 L273.86,242.43 L274.66,242.31 L275.45,242.18 L276.25,242.05 L277.04,241.91 L277.84,241.77 L278.63,241.62 L279.43,241.47 L280.22,241.31 L281.01,241.15 L281.80,240.98 L282.59,240.81 L283.38,240.63 L284.17,240.44 L284.95,240.25 L285.74,240.06 L286.52,239.86 L287.30,239.65 L288.08,239.44 L288.85,239.22 L289.63,239.00 L290.40,238.77 L291.17,238.53 L291.94,238.29 L292.70,238.04 L293.47,237.79 L294.23,237.53 L294.98,237.27 L295.74,237.00 L296.49,236.72 L297.24,236.44 L297.98,236.15 L298.73,235.85 L299.46,235.55 L300.20,235.24 L300.93,234.92 L301.66,234.60 L302.38,234.27 L303.10,233.94 L303.82,233.60 L304.53,233.25 L305.24,232.89 L305.95,232.53 L306.65,232.16 L307.34,231.79 L308.03,231.40 L308.72,231.01 L309.40,230.62 L310.08,230.21 L310.75,229.80 L311.42,229.38 L312.08,228.96 L312.74,228.52 L313.39,228.08 L314.04,227.64 L314.68,227.18 L315.31,226.72 L315.94,226.25 L316.57,225.77 L317.18,225.29 L317.80,224.79 L318.40,224.29 L319.00,223.79 L319.60,223.27 L320.19,222.75 L320.77,222.22 L321.35,221.69 L321.93,221.15 L322.49,220.60 L323.06,220.05 L323.62,219.49 L324.17,218.92 L324.72,218.35 L325.26,217.77 L325.80,217.19 L326.33,216.60 L326.86,216.00 L327.38,215.40 L327.90,214.80 L328.42,214.19 L328.93,213.57 L329.43,212.95 L329.93,212.33 L330.43,211.70 L330.92,211.06 L331.41,210.42 L331.90,209.78 L332.38,209.14 L332.85,208.49 L333.32,207.83 L333.79,207.17 L334.26,206.51 L334.72,205.85 L335.17,205.18 L335.63,204.51 L336.08,203.83 L336.52,203.16 L336.97,202.48 L337.40,201.80 L337.84,201.11 L338.27,200.42 L338.70,199.73 L339.13,199.04 L339.55,198.35 L339.97,197.65 L340.39,196.95 L340.80,196.25 L341.21,195.55 L341.62,194.85 L342.02,194.15 L342.43,193.44 L342.83,192.74 L343.22,192.03 L343.62,191.32 L344.01,190.61 L344.40,189.91 L344.79,189.20 L345.17,188.49 L345.56,187.78 L345.94,187.07 L346.32,186.36 L346.70,185.65 L347.07,184.94 L347.44,184.23 L347.81,183.53 L348.18,182.82 L348.55,182.11 L348.92,181.41 L349.28,180.70 L349.64,180.00 L350.00,179.29 L350.36,178.59 L350.72,177.88 L351.07,177.18 L351.43,176.47 L351.78,175.76 L352.12,175.06 L352.47,174.35 L352.81,173.64 L353.16,172.93 L353.50,172.22 L353.83,171.51 L354.17,170.80 L354.50,170.08 L354.84,169.37 L355.16,168.65 L355.49,167.94 L355.82,167.22 L356.14,166.49 L356.46,165.77 L356.78,165.05 L357.09,164.32 L357.41,163.59 L357.72,162.86 L358.02,162.12 L358.32,161.39 L358.62,160.65 L358.92,159.91 L359.21,159.17 L359.50,158.43 L359.78,157.68 L360.06,156.93 L360.33,156.18 L360.60,155.43 L360.86,154.68 L361.12,153.93 L361.37,153.17 L361.62,152.41 L361.87,151.65 L362.12,150.89 L362.36,150.13 L362.59,149.37 L362.83,148.60 L363.06,147.84 L363.29,147.07 L363.51,146.30 L363.74,145.54 L363.96,144.77 L364.18,144.00 L364.40,143.23 L364.62,142.46 L364.84,141.69 L365.06,140.92 L365.28,140.14 L365.50,139.37 L365.71,138.60 L365.93,137.83 L366.15,137.06 L366.37,136.29 L366.59,135.51 L366.81,134.74 L367.03,133.97 L367.26,133.20 L367.48,132.43 L367.71,131.66 L367.94,130.90 L368.18,130.13 L368.41,129.36 L368.65,128.60 L368.89,127.83 L369.14,127.07 L369.38,126.30 L369.63,125.54 L369.89,124.78 L370.15,124.02 L370.41,123.27 L370.68,122.51 L370.95,121.76 L371.22,121.01 L371.50,120.25 L371.78,119.51 L372.07,118.76 L372.36,118.01 L372.65,117.27 L372.95,116.53 L373.26,115.79 L373.57,115.06 L373.89,114.32 L374.21,113.59 L374.53,112.86 L374.87,112.13 L375.20,111.41 L375.55,110.69 L375.90,109.97 L376.25,109.26 L376.61,108.54 L376.98,107.83 L377.35,107.13 L377.73,106.42 L378.12,105.72 L378.51,105.03 L378.91,104.33 L379.32,103.64 L379.74,102.96 L380.16,102.27 L380.59,101.59 L381.02,100.92 L381.46,100.25 L381.91,99.58 L382.37,98.91 L382.83,98.26 L383.30,97.60 L383.78,96.95 L384.26,96.31 L384.75,95.67 L385.25,95.03 L385.75,94.40 L386.26,93.78 L386.78,93.16 L387.30,92.54 L387.83,91.94 L388.37,91.33 L388.91,90.74 L389.46,90.15 L390.01,89.56 L390.57,88.98 L391.13,88.41 L391.70,87.85 L392.28,87.29 L392.86,86.74 L393.45,86.19 L394.05,85.66 L394.65,85.13 L395.25,84.60 L395.86,84.09 L396.48,83.58 L397.10,83.08 L397.73,82.59 L398.36,82.11 L399.00,81.63 L399.64,81.16 L400.29,80.70 L400.94,80.25 L401.60,79.81 L402.26,79.38 L402.93,78.95 L403.60,78.54 L404.28,78.13 L404.96,77.73 L405.64,77.35 L406.34,76.97 L407.03,76.59 L407.73,76.23 L408.43,75.88 L409.14,75.53 L409.85,75.19 L410.57,74.86 L411.29,74.54 L412.01,74.22 L412.74,73.92 L413.47,73.62 L414.20,73.32 L414.94,73.04 L415.68,72.76 L416.43,72.49 L417.17,72.22 L417.92,71.97 L418.68,71.71 L419.43,71.47 L420.19,71.23 L420.95,71.00 L421.72,70.77 L422.49,70.55 L423.26,70.34 L424.03,70.13 L424.80,69.93 L425.58,69.73 L426.36,69.54 L427.14,69.36 L427.93,69.18 L428.71,69.00 L429.50,68.83 L430.29,68.67 L431.08,68.50 L431.87,68.35 L432.66,68.20 L433.46,68.05 L434.25,67.91 L435.05,67.77 L435.85,67.63 L436.65,67.50 L437.45,67.38 L438.25,67.25 L439.05,67.13 L439.86,67.02 L440.66,66.90 L441.47,66.79 L442.27,66.69 L443.08,66.58 L443.88,66.48 L444.69,66.39 L445.49,66.29 L446.30,66.20 L447.11,66.11 L447.91,66.02 L448.72,65.93 L449.52,65.85 L450.33,65.77 L451.13,65.69 L451.94,65.61 L452.74,65.53 L453.54,65.46 L454.35,65.39 L455.15,65.31 L455.95,65.24 L456.75,65.17 L457.54,65.10 L458.34,65.03 L459.14,64.96 L459.93,64.90 L460.72,64.83 L461.51,64.76 L462.30,64.70 L463.09,64.63 L463.88,64.56 L464.66,64.50 L465.44,64.43 L466.22,64.36 L467.00,64.29 L467.78,64.23 L468.55,64.16 L469.32,64.09 L470.09,64.01 L470.85,63.94 L471.62,63.87 L472.38,63.79 L473.14,63.72 L473.62,63.67" fill="none" stroke="#cc0033" stroke-width="3.6" stroke-linejoin="round" stroke-linecap="butt"/>
<path d="M111.30,272.28 L198.00,272.28 L198.80,272.28 L199.60,272.27 L200.40,272.27 L201.20,272.27 L202.00,272.27 L202.80,272.27 L203.60,272.27 L204.40,272.27 L205.20,272.27 L206.00,272.27 L206.80,272.27 L207.60,272.27 L208.40,272.28 L209.20,272.28 L210.00,272.29 L210.80,272.29 L211.60,272.30 L212.40,272.30 L213.20,272.31 L214.00,272.32 L214.80,272.32 L215.60,272.33 L216.40,272.34 L217.20,272.35 L218.00,272.36 L218.80,272.37 L219.60,272.37 L220.40,272.38 L221.19,272.39 L221.99,272.40 L222.79,272.40 L223.59,272.41 L224.39,272.41 L225.19,272.42 L225.99,272.42 L226.79,272.42 L227.59,272.43 L228.39,272.43 L229.19,272.43 L229.99,272.43 L230.79,272.42 L231.59,272.42 L232.39,272.41 L233.18,272.41 L233.98,272.40 L234.78,272.39 L235.58,272.37 L236.38,272.36 L237.18,272.34 L237.98,272.32 L238.78,272.30 L239.58,272.28 L240.38,272.25 L241.17,272.23 L241.97,272.20 L242.77,272.16 L243.57,272.13 L244.37,272.09 L245.17,272.05 L245.97,272.00 L246.76,271.96 L247.56,271.91 L248.36,271.85 L249.16,271.80 L249.96,271.74 L250.76,271.67 L251.56,271.61 L252.35,271.53 L253.15,271.46 L253.95,271.38 L254.75,271.30 L255.55,271.22 L256.34,271.13 L257.14,271.03 L257.94,270.93 L258.74,270.83 L259.54,270.72 L260.33,270.61 L261.13,270.50 L261.93,270.38 L262.73,270.25 L263.52,270.12 L264.32,269.99 L265.12,269.85 L265.91,269.71 L266.71,269.56 L267.50,269.40 L268.29,269.25 L269.08,269.08 L269.87,268.91 L270.66,268.74 L271.45,268.56 L272.24,268.37 L273.02,268.18 L273.81,267.99 L274.59,267.78 L275.37,267.58 L276.14,267.36 L276.92,267.15 L277.69,266.92 L278.46,266.69 L279.23,266.45 L280.00,266.21 L280.76,265.96 L281.52,265.71 L282.28,265.45 L283.04,265.18 L283.79,264.91 L284.54,264.63 L285.28,264.34 L286.03,264.05 L286.77,263.75 L287.50,263.45 L288.24,263.13 L288.97,262.81 L289.69,262.49 L290.41,262.16 L291.13,261.82 L291.84,261.47 L292.55,261.12 L293.26,260.76 L293.96,260.39 L294.66,260.01 L295.35,259.63 L296.04,259.24 L296.72,258.84 L297.40,258.44 L298.07,258.03 L298.74,257.61 L299.40,257.18 L300.06,256.74 L300.71,256.30 L301.36,255.85 L302.00,255.39 L302.64,254.93 L303.27,254.46 L303.90,253.98 L304.53,253.50 L305.15,253.01 L305.76,252.51 L306.37,252.01 L306.98,251.50 L307.58,250.98 L308.17,250.46 L308.76,249.93 L309.35,249.40 L309.93,248.86 L310.51,248.32 L311.08,247.77 L311.65,247.21 L312.21,246.65 L312.77,246.08 L313.33,245.51 L313.88,244.93 L314.42,244.35 L314.97,243.76 L315.50,243.17 L316.04,242.58 L316.56,241.98 L317.09,241.37 L317.61,240.76 L318.13,240.15 L318.64,239.53 L319.14,238.91 L319.65,238.28 L320.15,237.65 L320.64,237.02 L321.13,236.38 L321.62,235.74 L322.10,235.10 L322.58,234.45 L323.06,233.80 L323.53,233.15 L323.99,232.49 L324.46,231.84 L324.92,231.17 L325.37,230.51 L325.82,229.84 L326.27,229.17 L326.72,228.50 L327.16,227.83 L327.59,227.15 L328.02,226.47 L328.45,225.79 L328.88,225.11 L329.30,224.42 L329.72,223.74 L330.13,223.05 L330.54,222.36 L330.95,221.67 L331.35,220.97 L331.75,220.28 L332.15,219.58 L332.54,218.88 L332.93,218.18 L333.32,217.48 L333.70,216.78 L334.08,216.07 L334.46,215.37 L334.83,214.66 L335.20,213.95 L335.57,213.24 L335.93,212.53 L336.29,211.81 L336.65,211.10 L337.01,210.38 L337.36,209.66 L337.71,208.94 L338.05,208.22 L338.40,207.50 L338.74,206.77 L339.07,206.05 L339.41,205.32 L339.74,204.59 L340.07,203.86 L340.40,203.13 L340.72,202.40 L341.04,201.67 L341.36,200.94 L341.68,200.20 L341.99,199.47 L342.30,198.73 L342.61,197.99 L342.91,197.25 L343.22,196.51 L343.52,195.77 L343.82,195.03 L344.11,194.29 L344.41,193.54 L344.70,192.80 L344.99,192.05 L345.28,191.30 L345.56,190.56 L345.84,189.81 L346.13,189.06 L346.40,188.31 L346.68,187.56 L346.96,186.81 L347.23,186.05 L347.50,185.30 L347.77,184.55 L348.04,183.79 L348.30,183.04 L348.56,182.28 L348.83,181.52 L349.09,180.77 L349.34,180.01 L349.60,179.25 L349.86,178.49 L350.11,177.73 L350.36,176.97 L350.61,176.21 L350.86,175.45 L351.11,174.69 L351.35,173.93 L351.60,173.17 L351.84,172.41 L352.08,171.65 L352.32,170.88 L352.56,170.12 L352.80,169.36 L353.03,168.59 L353.27,167.83 L353.51,167.06 L353.74,166.30 L353.97,165.54 L354.21,164.77 L354.44,164.01 L354.67,163.24 L354.90,162.48 L355.13,161.71 L355.36,160.94 L355.59,160.18 L355.82,159.41 L356.05,158.65 L356.28,157.88 L356.51,157.11 L356.74,156.35 L356.97,155.58 L357.19,154.82 L357.42,154.05 L357.65,153.28 L357.88,152.52 L358.11,151.75 L358.34,150.99 L358.57,150.22 L358.80,149.45 L359.04,148.69 L359.27,147.92 L359.50,147.16 L359.73,146.39 L359.97,145.63 L360.20,144.86 L360.44,144.10 L360.68,143.34 L360.92,142.57 L361.15,141.81 L361.39,141.05 L361.64,140.28 L361.88,139.52 L362.12,138.76 L362.37,138.00 L362.62,137.23 L362.86,136.47 L363.12,135.71 L363.37,134.95 L363.62,134.19 L363.88,133.43 L364.13,132.67 L364.39,131.92 L364.65,131.16 L364.92,130.40 L365.18,129.64 L365.45,128.89 L365.72,128.13 L365.99,127.38 L366.26,126.62 L366.54,125.87 L366.82,125.11 L367.10,124.36 L367.38,123.61 L367.67,122.86 L367.96,122.11 L368.25,121.36 L368.54,120.61 L368.84,119.86 L369.14,119.11 L369.45,118.37 L369.75,117.62 L370.06,116.88 L370.38,116.14 L370.69,115.40 L371.02,114.66 L371.34,113.92 L371.67,113.19 L372.00,112.46 L372.34,111.73 L372.69,111.00 L373.03,110.28 L373.38,109.56 L373.74,108.84 L374.10,108.13 L374.47,107.42 L374.84,106.71 L375.22,106.01 L375.61,105.31 L376.00,104.62 L376.39,103.93 L376.79,103.24 L377.20,102.56 L377.62,101.88 L378.04,101.21 L378.46,100.55 L378.90,99.89 L379.34,99.23 L379.79,98.58 L380.24,97.94 L380.70,97.30 L381.17,96.67 L381.65,96.04 L382.13,95.42 L382.63,94.81 L383.13,94.20 L383.64,93.60 L384.15,93.01 L384.68,92.42 L385.21,91.84 L385.75,91.27 L386.29,90.70 L386.85,90.15 L387.41,89.59 L387.98,89.05 L388.55,88.51 L389.13,87.98 L389.72,87.45 L390.32,86.94 L390.92,86.43 L391.53,85.92 L392.14,85.43 L392.76,84.94 L393.39,84.45 L394.02,83.98 L394.66,83.51 L395.30,83.05 L395.95,82.59 L396.61,82.14 L397.27,81.70 L397.93,81.27 L398.60,80.84 L399.28,80.42 L399.96,80.01 L400.64,79.60 L401.33,79.21 L402.03,78.81 L402.73,78.43 L403.43,78.05 L404.13,77.68 L404.85,77.32 L405.56,76.96 L406.28,76.61 L407.00,76.27 L407.73,75.93 L408.46,75.61 L409.19,75.28 L409.93,74.97 L410.66,74.66 L411.41,74.35 L412.15,74.06 L412.90,73.77 L413.65,73.48 L414.41,73.20 L415.16,72.93 L415.92,72.66 L416.69,72.40 L417.45,72.15 L418.22,71.90 L418.99,71.66 L419.76,71.42 L420.53,71.19 L421.31,70.96 L422.08,70.74 L422.86,70.53 L423.64,70.32 L424.43,70.12 L425.21,69.92 L425.99,69.73 L426.78,69.54 L427.57,69.36 L428.36,69.18 L429.15,69.00 L429.94,68.84 L430.73,68.67 L431.52,68.52 L432.31,68.36 L433.10,68.21 L433.90,68.07 L434.69,67.93 L435.48,67.80 L436.28,67.67 L437.07,67.54 L437.86,67.42 L438.66,67.30 L439.45,67.19 L440.25,67.08 L441.04,66.97 L441.83,66.87 L442.63,66.77 L443.42,66.67 L444.22,66.58 L445.01,66.49 L445.80,66.40 L446.60,66.31 L447.39,66.23 L448.19,66.15 L448.98,66.07 L449.77,66.00 L450.57,65.92 L451.36,65.85 L452.15,65.78 L452.95,65.71 L453.74,65.64 L454.53,65.57 L455.33,65.51 L456.12,65.44 L456.91,65.38 L457.70,65.32 L458.50,65.26 L459.29,65.19 L460.08,65.13 L460.87,65.07 L461.66,65.01 L462.45,64.94 L463.24,64.88 L464.03,64.82 L464.82,64.76 L465.61,64.69 L466.40,64.63 L467.19,64.56 L467.98,64.49 L468.77,64.42 L469.56,64.35 L470.35,64.28 L471.14,64.21 L471.92,64.13 L472.71,64.05 L473.50,63.97 L473.73,63.95" fill="none" stroke="#ff0000" stroke-width="3.6" stroke-linejoin="round" stroke-linecap="butt"/>
<g stroke="#4c4c4c" stroke-width="1.4" fill="none">
<path d="M101.65,58.0 H473.2"/>
<path d="M101.65,53.4 V283.3"/>
<path d="M189.2,58.0 V53.5"/>
<path d="M276.7,58.0 V53.5"/>
<path d="M364.2,58.0 V53.5"/>
<path d="M451.7,58.0 V53.5"/>
<path d="M101.65,106.8 H106.2"/>
<path d="M101.65,155.6 H106.2"/>
<path d="M101.65,204.4 H106.2"/>
<path d="M101.65,253.2 H106.2"/>
</g>
<g opacity="0.999">
<text transform="translate(189.07,83.20) scale(1,1.05)" font-size="19.5" text-anchor="middle" >40</text>
<text transform="translate(276.59,83.20) scale(1,1.05)" font-size="19.5" text-anchor="middle" >80</text>
<text transform="translate(364.11,83.20) scale(1,1.05)" font-size="19.5" text-anchor="middle" >120</text>
<text transform="translate(451.63,83.20) scale(1,1.05)" font-size="19.5" text-anchor="middle" >160</text>
<text transform="translate(97.30,64.80) scale(1,1.05)" font-size="19.5" text-anchor="end" >0</text>
<text transform="translate(97.30,113.70) scale(1,1.05)" font-size="19.5" text-anchor="end" >5</text>
<path d="M76.36,108.40 H84.86" stroke="#000" stroke-width="1.5"/>
<text transform="translate(97.30,162.50) scale(1,1.05)" font-size="19.5" text-anchor="end" >10</text>
<path d="M65.52,157.20 H74.02" stroke="#000" stroke-width="1.5"/>
<text transform="translate(97.30,211.30) scale(1,1.05)" font-size="19.5" text-anchor="end" >15</text>
<path d="M65.52,206.00 H74.02" stroke="#000" stroke-width="1.5"/>
<text transform="translate(97.30,260.10) scale(1,1.05)" font-size="19.5" text-anchor="end" >20</text>
<path d="M65.52,254.80 H74.02" stroke="#000" stroke-width="1.5"/>
<path d="M118.0,93.95 H150.0" stroke="#0000ff" stroke-width="3.6"/>
<path d="M118.0,126.85 H150.0" stroke="#3300cc" stroke-width="3.6"/>
<text transform="translate(158.00,99.90) scale(1,0.96)" font-size="15.4" text-anchor="start" >eB=0 GeV</text>
<text transform="translate(228.90,93.20) scale(1,1.0)" font-size="10.5" text-anchor="start" >2</text>
<text transform="translate(158.00,132.80) scale(1,0.96)" font-size="15.4" text-anchor="start" >eB=0.2 GeV</text>
<text transform="translate(241.90,126.10) scale(1,1.0)" font-size="10.5" text-anchor="start" >2</text>
<text transform="translate(487.80,66.70) scale(1,1.07)" font-size="27" text-anchor="start" ><tspan font-style="italic">T</tspan>(MeV)</text>
<text transform="translate(420.40,178.00) scale(1,1.02)" font-size="26.5" text-anchor="start" >(a)</text>
<g stroke="#000" stroke-width="1.3" fill="none" stroke-linejoin="miter" stroke-miterlimit="10">
<path d="M7.0,-1 L1.4,19.8 L7.0,40.6"/>
<path d="M51.2,-1 L56.9,19.8 L51.2,40.6"/>
<path d="M8.3,10.6 H27.8" stroke-width="1.35"/>
</g>
<path d="M1.5,0 L0.3,7.0 C-0.3,10.4 1.4,12.0 4.4,12.0 C8.6,12.0 12.0,9.6 13.2,4.6 L14.3,0.1 M9.1,0 L4.9,17.0" transform="translate(11.7,13.9)" stroke="#000" stroke-width="2" fill="none"/>
<path d="M1.5,0 L0.3,7.0 C-0.3,10.4 1.4,12.0 4.4,12.0 C8.6,12.0 12.0,9.6 13.2,4.6 L14.3,0.1 M9.1,0 L4.9,17.0" transform="translate(35.4,13.9)" stroke="#000" stroke-width="2" fill="none"/>
<text transform="translate(58.20,40.50) scale(1,1.0)" font-size="17.6" text-anchor="start" >Ave</text>
<text transform="translate(95.00,26.90) scale(1,1.06)" font-size="26.5" text-anchor="start" >10</text>
<text transform="translate(124.30,15.20) scale(1,0.99)" font-size="17.3" text-anchor="start" >3</text>
<text transform="translate(139.10,26.90) scale(1,1.06)" font-size="27.2" text-anchor="start" >GeV</text>
<text transform="translate(193.40,15.20) scale(1,0.99)" font-size="17.3" text-anchor="start" >3</text>
</g>
</svg>
</body></html>
